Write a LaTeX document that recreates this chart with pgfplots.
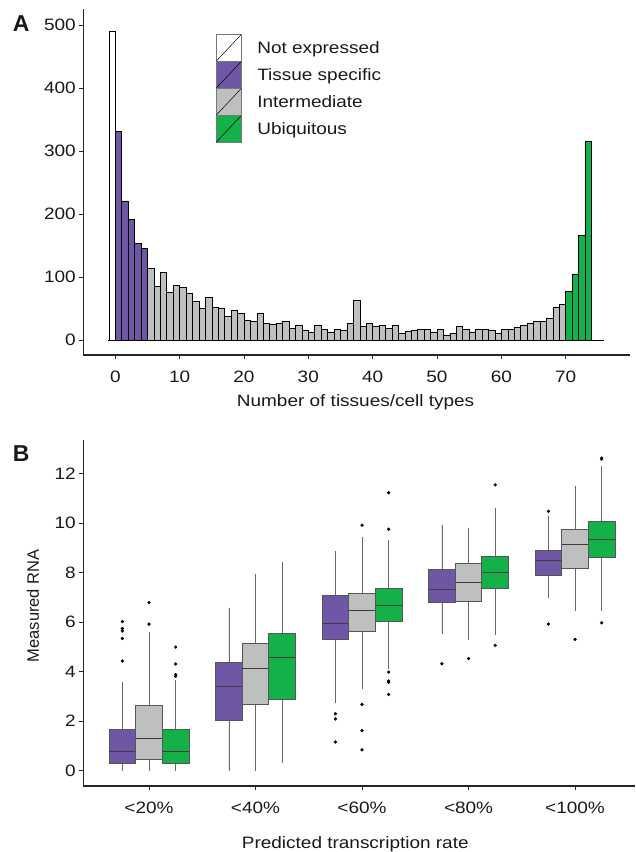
\documentclass[border=0pt]{standalone}
\usepackage{pgfplots}
\pgfplotsset{compat=1.18}
\usepgfplotslibrary{statistics}
\usepackage{fontspec}
\setmainfont{Liberation Sans}[FakeStretch=1.15]
\newfontfamily\plainsans{Liberation Sans}
\newcommand\lf{\fontsize{16.5}{19.8}\selectfont}

\definecolor{cwhite}{RGB}{255,255,255}
\definecolor{cpurple}{RGB}{111,87,166}
\definecolor{cgray}{RGB}{190,192,191}
\definecolor{cgreen}{RGB}{20,177,75}
\definecolor{boxline}{RGB}{85,85,85}
\definecolor{whisk}{RGB}{105,105,105}
\definecolor{medline}{RGB}{60,60,60}
\definecolor{keyline}{RGB}{120,120,120}
\definecolor{txt}{RGB}{25,25,25}

\pgfplotsset{
  histbar/.style={ybar, bar width=1, bar shift=0pt, fill=#1, draw=black, line width=0.5pt,
    legend image code/.code={%
      \draw[fill=#1, draw=keyline, line width=0.4pt] (0pt,-13.3pt) rectangle (25pt,13.3pt);
      \draw[black, line width=0.4pt] (0pt,-13.3pt) -- (25pt,13.3pt);}},
  bxs/.style={fill=#1, draw=boxline, line width=0.8pt, mark=*, mark size=1.5pt,
    mark options={solid, draw=black, fill=black, line width=0.3pt},
    boxplot/every median/.style={draw=medline, line width=0.9pt},
    boxplot/every whisker/.style={draw=whisk, line width=0.6pt}},
  bp/.style n args={6}{boxplot prepared={draw position=#1, lower whisker=#2,
    lower quartile=#3, median=#4, upper quartile=#5, upper whisker=#6,
    box extend=0.25, whisker extend=0}},
  common/.style={scale only axis,
    axis x line*=bottom, axis y line*=left,
    axis line style={-, line width=1.3pt, black!85},
    tick align=outside, major tick length=4pt,
    tick style={line width=0.8pt, black!85},
    tick label style={font=\lf, text=txt},
    label style={font=\lf, text=txt},
    /pgf/number format/assume math mode=true,
    xticklabel style={anchor=base, yshift=-23pt},
  }
}

\begin{document}
\begin{tikzpicture}
\useasboundingbox (0pt,0pt) rectangle (635pt,-852pt);

% ---------------- Panel A ----------------
\begin{axis}[common,
  at={(83.3pt,-355pt)}, anchor=south west,
  width=546.7pt, height=345.7pt,
  xmin=-4.97, xmax=80, ymin=-23.8, ymax=524.9,
  xtick={0,10,...,70}, ytick={0,100,...,500},
  xlabel={Number of tissues/cell types},
  xlabel style={at={(axis description cs:0.498,-0.1496)}, anchor=base},
  legend style={at={(axis description cs:0.2422,0.9277)}, anchor=north west,
    draw=none, fill=none, inner sep=0pt, row sep=0pt, column sep=16pt,
    nodes={inner sep=0pt, anchor=west}, font=\lf, text=txt},
  legend cell align=left,
]
\addplot[black, line width=0.6pt, forget plot] coordinates {(-1.1,0) (76,0)};
\addplot[histbar=cwhite] coordinates {(-0.5,490)};
\addlegendentry{Not expressed}
\addplot[histbar=cpurple] coordinates {(0.5,331) (1.5,221) (2.5,192) (3.5,153) (4.5,146)};
\addlegendentry{Tissue specific}
\addplot[histbar=cgray] coordinates {
 (5.5,114) (6.5,86) (7.5,107) (8.5,76) (9.5,87) (10.5,84) (11.5,74) (12.5,62) (13.5,51) (14.5,68)
 (15.5,52) (16.5,50) (17.5,38) (18.5,48) (19.5,42) (20.5,32) (21.5,29) (22.5,42) (23.5,27) (24.5,25)
 (25.5,27) (26.5,29) (27.5,19) (28.5,24) (29.5,16) (30.5,13) (31.5,24) (32.5,17) (33.5,13) (34.5,17)
 (35.5,15) (36.5,27) (37.5,63) (38.5,22) (39.5,27) (40.5,22) (41.5,24) (42.5,19) (43.5,24) (44.5,11)
 (45.5,14) (46.5,16) (47.5,17) (48.5,17) (49.5,13) (50.5,17) (51.5,8) (52.5,11) (53.5,22) (54.5,17)
 (55.5,13) (56.5,17) (57.5,17) (58.5,16) (59.5,11) (60.5,17) (61.5,17) (62.5,21) (63.5,23) (64.5,27)
 (65.5,30) (66.5,29) (67.5,35) (68.5,52) (69.5,56)};
\addlegendentry{Intermediate}
\addplot[histbar=cgreen] coordinates {(70.5,77) (71.5,105) (72.5,166) (73.5,315)};
\addlegendentry{Ubiquitous}
\end{axis}

% ---------------- Panel B ----------------
\begin{axis}[common,
  at={(83.3pt,-786pt)}, anchor=south west,
  width=551.7pt, height=346pt,
  xmin=0.383, xmax=5.563, ymin=-0.617, ymax=13.35,
  xtick={1,2,3,4,5},
  xticklabels={<20\%,<40\%,<60\%,<80\%,<100\%},
  ytick={0,2,...,12},
  boxplot/draw direction=y,
  xlabel={Predicted transcription rate},
  xlabel style={at={(axis description cs:0.493,-0.180)}, anchor=base},
  ylabel={Measured RNA},
  ylabel style={at={(axis description cs:-0.0912,0.5208)}, anchor=center, rotate=0,
    font=\plainsans\fontsize{16.5}{19.8}\selectfont},
]
% <20%
\addplot[bxs=cpurple, bp={0.75}{0}{0.29}{0.79}{1.67}{3.57}] coordinates {(0,6.02) (0,5.74) (0,5.64) (0,5.34) (0,4.43)};
\addplot[bxs=cgray,   bp={1.00}{0}{0.47}{1.29}{2.65}{5.62}] coordinates {(0,6.79) (0,5.92)};
\addplot[bxs=cgreen,  bp={1.25}{0}{0.29}{0.79}{1.65}{3.65}] coordinates {(0,4.99) (0,4.31) (0,3.88) (0,3.81)};
% <40% (no outliers)
\addplot[bxs=cpurple, bp={1.75}{0}{2.03}{3.40}{4.39}{6.57}] coordinates {};
\addplot[bxs=cgray,   bp={2.00}{0}{2.69}{4.14}{5.13}{7.94}] coordinates {};
\addplot[bxs=cgreen,  bp={2.25}{0.33}{2.88}{4.56}{5.53}{8.42}] coordinates {};
% <60%
\addplot[bxs=cpurple, bp={2.75}{2.72}{5.29}{5.93}{7.06}{8.88}] coordinates {(0,2.30) (0,2.09) (0,1.16)};
\addplot[bxs=cgray,   bp={3.00}{3.28}{5.61}{6.45}{7.16}{9.44}] coordinates {(0,9.91) (0,2.68) (0,1.62) (0,0.84)};
\addplot[bxs=cgreen,  bp={3.25}{4.11}{6.04}{6.68}{7.38}{9.30}] coordinates {(0,11.22) (0,9.75) (0,3.98) (0,3.62) (0,3.57) (0,3.08)};
% <80%
\addplot[bxs=cpurple, bp={3.75}{5.52}{6.81}{7.31}{8.14}{9.92}] coordinates {(0,4.32)};
\addplot[bxs=cgray,   bp={4.00}{5.29}{6.85}{7.62}{8.38}{9.80}] coordinates {(0,4.53)};
\addplot[bxs=cgreen,  bp={4.25}{5.49}{7.34}{8.02}{8.66}{10.62}] coordinates {(0,11.54) (0,5.06)};
% <100%
\addplot[bxs=cpurple, bp={4.75}{6.96}{7.88}{8.50}{8.90}{10.28}] coordinates {(0,10.47) (0,5.92)};
\addplot[bxs=cgray,   bp={5.00}{6.45}{8.18}{9.14}{9.75}{11.51}] coordinates {(0,5.30)};
\addplot[bxs=cgreen,  bp={5.25}{6.44}{8.61}{9.35}{10.08}{12.32}] coordinates {(0,12.62) (0,12.58) (0,5.97)};
\end{axis}

\node[anchor=base west, inner sep=0pt, text=txt, font=\plainsans\bfseries\fontsize{23}{27}\selectfont] at (12.7pt,-31.7pt) {A};
\node[anchor=base west, inner sep=0pt, text=txt, font=\plainsans\bfseries\fontsize{23}{27}\selectfont] at (12.7pt,-461.7pt) {B};
\end{tikzpicture}
\end{document}
